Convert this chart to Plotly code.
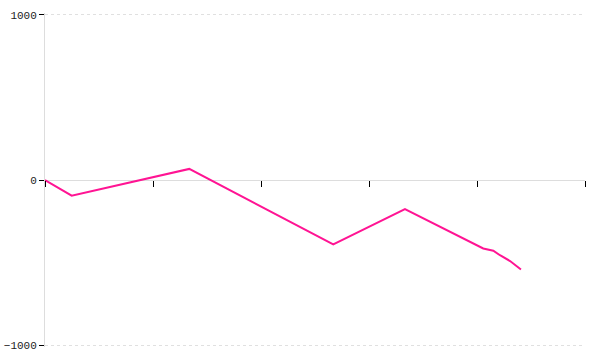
import plotly.graph_objects as go

x_vals = [0, 0.247, 1.336, 2.669, 3.333, 4.058, 4.151, 4.213, 4.306, 4.407]
y_vals = [0, -95, 67, -390, -176, -414, -428, -455, -490, -541]
y_ticks = [-1000, 0, 1000]
x_ticks = [0, 1, 2, 3, 4, 5]

fig = go.Figure()
fig.add_trace(go.Scatter(x=x_vals, y=y_vals, mode="lines",
                         line=dict(color="#ff1493", width=2)))

fig.update_layout(
    width=600, height=360,
    margin=dict(l=45, r=15, t=13.35, b=13.35),
    paper_bgcolor="white", plot_bgcolor="white",
    showlegend=False,
    font=dict(family="Liberation Mono", size=11, color="#222"),
    xaxis=dict(range=[0, 5], tickvals=x_ticks, showticklabels=False,
               showgrid=False, zeroline=False, automargin=False,
               showline=False,
               ticks="outside", ticklen=6, tickcolor="black", tickwidth=1,
               anchor="free", position=0.5),
    yaxis=dict(range=[-1010, 1010], tickvals=y_ticks, automargin=False,
               showgrid=True, gridcolor="#e0e0e0", griddash="dot", gridwidth=1,
               zeroline=True, zerolinecolor="#dddddd", zerolinewidth=1,
               showline=True, linecolor="#dddddd", linewidth=1,
               ticks="outside", ticklen=5, tickcolor="black", tickwidth=1),
)

fig.write_html("out.html")
